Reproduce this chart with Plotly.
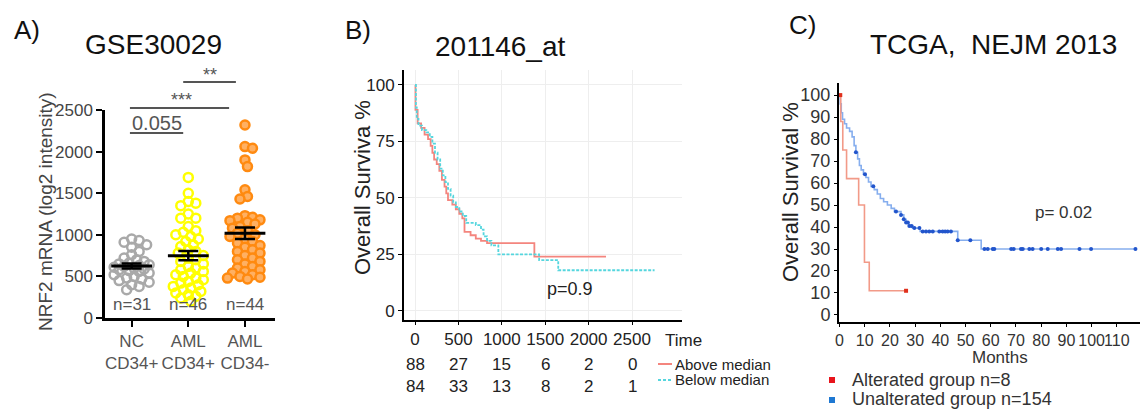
import numpy as np
import plotly.graph_objects as go

W, H = 1144, 410
FONT = "Arial, Liberation Sans, sans-serif"

# ---------------- Panel A data (GSE30029) ----------------
groups_a = ["NC<br>CD34+", "AML<br>CD34+", "AML<br>CD34-"]
n_labels_a = ["n=31", "n=46", "n=44"]
yticks_a = [0, 500, 1000, 1500, 2000, 2500]
nc_cd34p = [950, 930, 910, 880, 850, 800, 760, 720, 700, 680, 660, 650, 640, 630, 620,
            610, 600, 590, 580, 570, 560, 540, 520, 500, 480, 470, 450, 430, 400, 380, 340]
aml_cd34p = [1690, 1500, 1400, 1380, 1350, 1250, 1200, 1200, 1100, 1050, 1030, 1000, 980,
             950, 920, 880, 860, 820, 800, 780, 750, 720, 700, 680, 650, 620, 600, 580, 560,
             540, 520, 500, 480, 460, 440, 420, 400, 380, 360, 340, 320, 300, 280, 260, 240, 200]
aml_cd34m = [2320, 2060, 2040, 1900, 1820, 1540, 1460, 1430, 1230, 1210, 1200, 1180, 1170,
             1150, 1130, 1100, 1080, 1050, 1020, 1000, 980, 950, 920, 900, 870, 850, 820, 800,
             780, 750, 720, 700, 680, 650, 620, 600, 580, 560, 540, 520, 500, 490, 480, 470]
sig_labels = ["0.055", "***", "**"]

# ---------------- Panel B data (201146_at) ----------------
above_t = [0, 5, 30, 70, 110, 150, 180, 200, 220, 250, 280, 310, 340, 360, 380, 430, 470,
           510, 545, 570, 640, 700, 760, 830, 1375]
above_s = [100, 89, 83, 81, 78, 76, 73, 70, 67, 65, 62, 58, 55, 52, 49, 47, 45,
           43, 41, 35, 33.5, 32, 31, 30, 24]
above_end = 2200
below_t = [0, 10, 20, 40, 80, 130, 170, 200, 230, 260, 290, 320, 350, 380, 410, 440, 470,
           510, 550, 590, 700, 760, 790, 830, 880, 960, 1430, 1650]
below_s = [100, 90, 85, 82, 80, 79, 77, 74, 70, 67, 63, 60, 57, 54, 51, 48, 46,
           44, 42, 39, 38, 36, 33, 31, 29, 25, 22.5, 18]
below_end = 2760
risk_times = [0, 500, 1000, 1500, 2000, 2500]
risk_above = [88, 27, 15, 6, 2, 0]
risk_below = [84, 33, 13, 8, 2, 1]

# ---------------- Panel C data (TCGA, NEJM 2013) ----------------
alt_t = [0, 0.5, 1.3, 2.8, 7.6, 9.9, 11.8]
alt_s = [100, 88, 75, 62, 50, 24, 11]
alt_end = 26.4
alt_censor = [0.3, 26.4]
unalt_t = [0, 0.3, 0.7, 1.2, 2.0, 2.8, 4.0, 5.0, 5.8, 6.5, 7.2, 7.9, 8.6, 9.5, 10.5, 11.5,
           12.5, 13.8, 15.0, 16.2, 17.5, 19.0, 20.5, 21.8, 24.4, 25.5, 26.4, 27.5, 29.0,
           32.0, 46.9, 56.2]
unalt_s = [100, 96, 92, 89, 87, 85, 83.5, 81, 77, 74, 71, 68, 66, 64, 62.5, 60.5,
           58.5, 57, 55, 53, 51.5, 50, 48.5, 47, 45.5, 43.5, 42, 40.5, 39.5,
           38, 34, 30]
unalt_end = 117.4
unalt_censor = [6.5, 10.1, 13.4, 22.4, 24.4, 25.5, 26.4, 27.1, 27.7, 28.6, 29.7, 31.7, 33,
                34.3, 35.6, 37, 39.6, 40.9, 41.9, 42.9, 44.2, 46.9, 51.9, 57.5, 58.8, 60.8,
                61.4, 68.1, 69.1, 72, 72.7, 75.3, 76.6, 80, 82.6, 86.6, 87.9, 95.2, 99.8, 117.4]
months_ticks = list(range(0, 111, 10))
surv_ticks_c = list(range(0, 101, 10))
surv_ticks_b = [0, 25, 50, 75, 100]


def fx(px):
    return px / W


def fy(py):
    return 1 - py / H


def swarm(values, px_per_val, px_per_cat, diam=7.0, step=2.5, maxoff=19.0):
    placed = []
    offs = []
    cands = [0.0]
    k = 1
    while k * step <= maxoff:
        cands += [k * step, -k * step]
        k += 1
    for v in values:
        y = v * px_per_val
        best, bestd = 0.0, -1
        chosen = None
        for c in cands:
            dmin = min([np.hypot(c - px, y - py) for px, py in placed] + [1e9])
            if dmin >= diam:
                chosen = c
                break
            if dmin > bestd:
                bestd, best = dmin, c
        if chosen is None:
            chosen = best
        placed.append((chosen, y))
        offs.append(chosen / px_per_cat)
    return offs


def step_xy(t, s, end):
    return list(t) + [end], list(s) + [s[-1]]


def surv_at(t, s, x):
    val = s[0]
    for ti, si in zip(t, s):
        if ti <= x:
            val = si
    return val


fig = go.Figure()

# ---------------- Panel A ----------------
A_x0, A_x1, A_y0, A_y1 = 105, 275, 110, 318
a_range_x = [-0.47, 2.53]
px_per_cat = (A_x1 - A_x0) / (a_range_x[1] - a_range_x[0])
px_per_val = (A_y1 - A_y0) / 2500.0
a_styles = [
    dict(color="rgba(0,0,0,0)", line=dict(color="#a9a9a9", width=2.5)),
    dict(color="rgba(0,0,0,0)", line=dict(color="#ffff00", width=2.5)),
    dict(color="#ffb062", line=dict(color="#ff8a10", width=2.5)),
]
for i, vals in enumerate([nc_cd34p, aml_cd34p, aml_cd34m]):
    offs = swarm(vals, px_per_val, px_per_cat)
    fig.add_trace(go.Scatter(
        x=[i + o for o in offs], y=vals, mode="markers",
        marker=dict(symbol="circle", size=9, **a_styles[i]),
        xaxis="x", yaxis="y", showlegend=False, name=groups_a[i].replace("<br>", " ")))
for i, vals in enumerate([nc_cd34p, aml_cd34p, aml_cd34m]):
    m = float(np.mean(vals))
    sem = float(np.std(vals, ddof=1) / np.sqrt(len(vals)))
    fig.add_trace(go.Scatter(x=[i - 0.36, i + 0.36], y=[m, m], mode="lines",
                             line=dict(color="black", width=3), xaxis="x", yaxis="y",
                             showlegend=False, hoverinfo="skip"))
    fig.add_trace(go.Scatter(x=[i], y=[m], mode="markers",
                             marker=dict(size=1, color="black"),
                             error_y=dict(type="data", array=[sem], color="black",
                                          thickness=2.5, width=10),
                             xaxis="x", yaxis="y", showlegend=False, hoverinfo="skip"))

# ---------------- Panel B ----------------
B_x0, B_x1, B_y0, B_y1 = 404, 682, 70, 320
xa, ya = step_xy(above_t, above_s, above_end)
xb, yb = step_xy(below_t, below_s, below_end)
fig.add_trace(go.Scatter(x=xa, y=ya, mode="lines", line=dict(shape="hv", color="#f4857e", width=1.8),
                         xaxis="x2", yaxis="y2", showlegend=False, name="Above median"))
fig.add_trace(go.Scatter(x=xb, y=yb, mode="lines",
                         line=dict(shape="hv", color="#55d6de", width=1.8, dash="3px,1.5px"),
                         xaxis="x2", yaxis="y2", showlegend=False, name="Below median"))

# ---------------- Panel C ----------------
C_x0, C_x1, C_y0, C_y1 = 839, 1140, 83, 322
xu, yu = step_xy(unalt_t, unalt_s, unalt_end)
xr, yr = step_xy(alt_t, alt_s, alt_end)
fig.add_trace(go.Scatter(x=xu, y=yu, mode="lines", line=dict(shape="hv", color="#86aeee", width=1.6),
                         xaxis="x3", yaxis="y3", showlegend=False, name="Unaltered group"))
fig.add_trace(go.Scatter(x=unalt_censor, y=[surv_at(unalt_t, unalt_s, c) for c in unalt_censor],
                         mode="markers", marker=dict(color="#2255cc", size=4, symbol="circle"),
                         xaxis="x3", yaxis="y3", showlegend=False, hoverinfo="skip"))
fig.add_trace(go.Scatter(x=xr, y=yr, mode="lines", line=dict(shape="hv", color="#f29a88", width=1.6),
                         xaxis="x3", yaxis="y3", showlegend=False, name="Altered group"))
fig.add_trace(go.Scatter(x=alt_censor, y=[surv_at(alt_t, alt_s, c) for c in alt_censor],
                         mode="markers", marker=dict(color="#e0301c", size=4, symbol="square"),
                         xaxis="x3", yaxis="y3", showlegend=False, hoverinfo="skip"))

axis_common = dict(showline=True, linecolor="black", ticks="outside", tickcolor="black",
                   zeroline=False, fixedrange=True, automargin=False, tickangle=0)

fig.update_layout(
    template="none",
    width=W, height=H, autosize=False,
    margin=dict(l=0, r=0, t=0, b=0, pad=0),
    paper_bgcolor="white", plot_bgcolor="white",
    font=dict(family=FONT, color="#222"),
    xaxis=dict(axis_common, domain=[fx(A_x0), fx(A_x1)], range=a_range_x, anchor="y",
               tickvals=[0, 1, 2], ticktext=groups_a, linewidth=2.5, ticklen=6, tickwidth=2,
               showgrid=False, tickfont=dict(size=17, color="#555")),
    yaxis=dict(axis_common, domain=[fy(A_y1), fy(A_y0)], range=[0, 2500], anchor="x",
               tickvals=yticks_a, linewidth=2.5, ticklen=6, tickwidth=2, showgrid=False,
               tickfont=dict(size=17, color="#444")),
    xaxis2=dict(axis_common, domain=[fx(B_x0), fx(B_x1)], range=[-127, 3076], anchor="y2",
                tickvals=risk_times, linewidth=2, ticklen=3, tickwidth=1,
                showgrid=True, gridcolor="#eeeeee", gridwidth=1,
                tickfont=dict(size=17, color="#222")),
    yaxis2=dict(axis_common, domain=[fy(B_y1), fy(B_y0)], range=[-4, 106.6], anchor="x2",
                tickvals=surv_ticks_b, linewidth=2, ticklen=4, tickwidth=1,
                showgrid=True, gridcolor="#eeeeee", gridwidth=1,
                tickfont=dict(size=17, color="#222")),
    xaxis3=dict(axis_common, domain=[fx(C_x0), fx(C_x1)], range=[-0.2, 119.2], anchor="y3",
                tickvals=months_ticks, linewidth=2, ticklen=3, tickwidth=1,
                showgrid=False, tickfont=dict(size=16, color="#333")),
    yaxis3=dict(axis_common, domain=[fy(C_y1), fy(C_y0)], range=[-3.2, 105.5], anchor="x3",
                tickvals=surv_ticks_c, linewidth=2, ticklen=3, tickwidth=1,
                showgrid=False, tickfont=dict(size=18, color="#333")),
)

ann = []


def txt(text, px, py, size, color="#111", xanchor="center", angle=0):
    ann.append(dict(text=text, x=fx(px), y=fy(py), xref="paper", yref="paper",
                    xanchor=xanchor, yanchor="middle", showarrow=False, textangle=angle,
                    font=dict(size=size, color=color, family=FONT)))


def dtxt(text, x, y, xref, yref, size, color="#222"):
    ann.append(dict(text=text, x=x, y=y, xref=xref, yref=yref, showarrow=False,
                    xanchor="center", yanchor="middle",
                    font=dict(size=size, color=color, family=FONT)))


# Panel labels & titles
txt("A)", 27, 30, 26)
txt("GSE30029", 153, 45, 28)
txt("B)", 358, 30, 26)
txt("201146_at", 500, 47, 28)
txt("C)", 802, 25, 26)
txt("TCGA,  NEJM 2013", 993, 45, 28)
# y titles
txt("NRF2 mRNA (log2 intensity)", 45, 212, 19, color="#444", angle=-90)
txt("Overall Surviva %", 363, 188, 22, color="#222", angle=-90)
txt("Overall Survival %", 790, 192, 22, color="#222", angle=-90)

# Panel A: n labels and significance
for i, lab in enumerate(n_labels_a):
    dtxt(lab, i, fy(304), "x", "paper", 17, color="#555")
sig_x = [0.44, 0.88, 1.38]
sig_py = [123, 100, 75]
sig_size = [20, 18, 18]
for lab, x, py, s in zip(sig_labels, sig_x, sig_py, sig_size):
    dtxt(lab, x, fy(py), "x", "paper", s, color="#555")
shapes = []
sig_lines = [(-0.03, 0.91, 133), (-0.03, 1.72, 108), (0.91, 1.84, 82)]
for x0, x1, py in sig_lines:
    shapes.append(dict(type="line", xref="x", yref="paper", x0=x0, x1=x1, y0=fy(py), y1=fy(py),
                       line=dict(color="#555", width=1.8)))

# Panel B: p-value, risk table, legend
dtxt("p=0.9", 1786, 9.5, "x2", "y2", 18)
for t, a, b in zip(risk_times, risk_above, risk_below):
    dtxt(str(a), t, fy(364), "x2", "paper", 17)
    dtxt(str(b), t, fy(386), "x2", "paper", 17)
txt("Time", 663, 340, 17, color="#222", xanchor="left")
txt("Above median", 673, 364, 15, color="#222", xanchor="left")
txt("Below median", 673, 379, 15, color="#222", xanchor="left")
shapes.append(dict(type="line", xref="paper", yref="paper", x0=fx(658), x1=fx(672),
                   y0=fy(364), y1=fy(364), line=dict(color="#f4857e", width=2)))
shapes.append(dict(type="line", xref="paper", yref="paper", x0=fx(658), x1=fx(672),
                   y0=fy(380), y1=fy(380), line=dict(color="#55d6de", width=2, dash="3px,2px")))

# Panel C: p-value, Months, legend
dtxt("p= 0.02", 88.7, 46.4, "x3", "y3", 17, color="#333")
txt("Months", 1000, 357, 17, color="#333")
txt("Alterated group n=8", 850, 380, 18, color="#333", xanchor="left")
txt("Unalterated group n=154", 850, 399, 18, color="#333", xanchor="left")
for py, col in [(380, "#e8141c"), (400, "#1e78d2")]:
    shapes.append(dict(type="rect", xref="paper", yref="paper", x0=fx(829), x1=fx(835),
                       y0=fy(py + 3), y1=fy(py - 3), line=dict(width=0), fillcolor=col))

fig.update_layout(annotations=ann, shapes=shapes)
fig.write_html("out.html", config={"displayModeBar": False},
               post_script="document.body.style.margin='0';document.body.style.overflow='hidden';")
